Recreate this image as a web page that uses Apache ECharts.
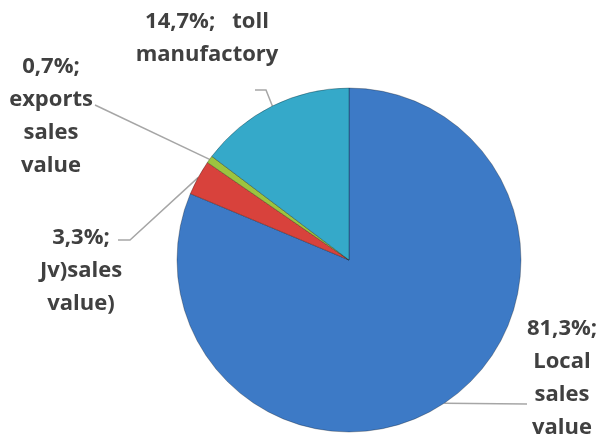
<!DOCTYPE html>
<html><head><meta charset="utf-8">
<script src="https://cdn.jsdelivr.net/npm/echarts@6/dist/echarts.min.js"></script>
<style>html,body{margin:0;padding:0;background:#fff}#c{width:604px;height:441px}</style>
</head><body><div id="c"></div>
<script>
var names = ["Local\nsales\nvalue", "Jv)sales\nvalue)", "exports\nsales\nvalue", "toll\nmanufactory"];
var values = [81.3, 3.3, 0.7, 14.7];
var colors = ["#3D7AC6", "#D8423C", "#9CC43F", "#35A9C9"];

// label anchor (layout only)
var labelAnchors = [
  {x: 562, y: 378, align: 'center'},
  {x: 81, y: 271, align: 'center'},
  {x: 51, y: 116, align: 'center'},
  {x: 207, y: 38, align: 'center'}
];
var lineBends = [
  [[527, 404]],
  [[130, 240], [118, 240]],
  [[95, 105]],
  [[266, 90], [255, 90]]
];

function fmt(v){ return v.toFixed(1).replace('.', ',') + '%;'; }

var data = values.map(function(v, i){
  var nm = names[i];
  var txt = (i === 3) ? fmt(v) + '   ' + nm : fmt(v) + '\n' + nm;
  return {value: v, name: nm, itemStyle: {color: colors[i]}, label: {formatter: txt}};
});

var chart = echarts.init(document.getElementById('c'), null, {renderer: 'canvas'});
chart.setOption({
  animation: false,
  series: [{
    type: 'pie',
    center: [349, 260],
    radius: 172,
    startAngle: 90,
    clockwise: true,
    data: data,
    itemStyle: {borderColor: 'rgba(0,0,0,0.28)', borderWidth: 1},
    label: {
      show: true,
      position: 'outside',
      fontFamily: 'Open Sans',
      fontWeight: 'bold',
      fontSize: 22,
      lineHeight: 33,
      color: '#404040'
    },
    labelLine: {show: true, length: 10, length2: 10, lineStyle: {color: '#A6A6A6', width: 1.5}},
    labelLayout: function(params){
      var i = params.dataIndex;
      var a = labelAnchors[i];
      var p0 = params.labelLinePoints ? params.labelLinePoints[0] : null;
      var pts = p0 ? [p0].concat(lineBends[i]) : undefined;
      return {x: a.x, y: a.y, align: a.align, verticalAlign: 'middle', labelLinePoints: pts};
    }
  }]
});
</script></body></html>
